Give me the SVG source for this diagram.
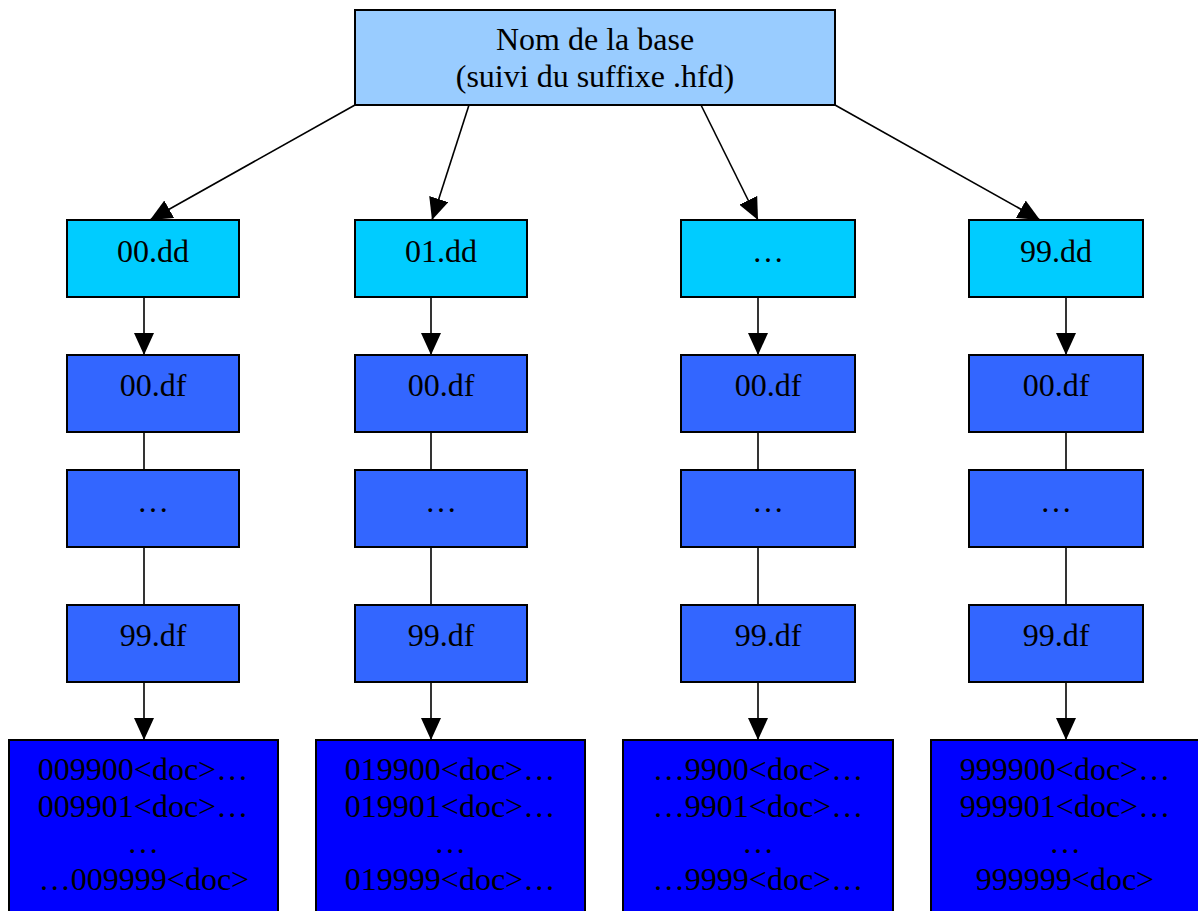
<svg xmlns="http://www.w3.org/2000/svg" width="1198" height="911" viewBox="0 0 1198 911">
<style>
text{font-family:"Liberation Serif","Times New Roman",serif;font-size:32px;fill:#000;text-anchor:middle}
.box{stroke:#000;stroke-width:2}
.top{fill:#99CCFF}
.dd{fill:#00CCFF}
.df{fill:#3366FF}
.doc{fill:#0000FF}
.ln{stroke:#000;stroke-width:1.6;fill:none}
</style>
<defs>
<marker id="ah" markerUnits="userSpaceOnUse" markerWidth="22" markerHeight="20" refX="22" refY="10" orient="auto" viewBox="0 0 22 20">
<path d="M0,0 L22,10 L0,20 z" fill="#000"/>
</marker>
</defs>
<rect width="1198" height="911" fill="#fff"/>
<g id="connectors">
<line class="ln" x1="355" y1="105" x2="150" y2="220" marker-end="url(#ah)"/>
<line class="ln" x1="469" y1="105" x2="432" y2="220" marker-end="url(#ah)"/>
<line class="ln" x1="701" y1="105" x2="758" y2="220" marker-end="url(#ah)"/>
<line class="ln" x1="835" y1="105" x2="1040" y2="220" marker-end="url(#ah)"/>
<line class="ln" x1="144" y1="297" x2="144" y2="355" marker-end="url(#ah)"/>
<line class="ln" x1="431" y1="297" x2="431" y2="355" marker-end="url(#ah)"/>
<line class="ln" x1="758" y1="297" x2="758" y2="355" marker-end="url(#ah)"/>
<line class="ln" x1="1066" y1="297" x2="1066" y2="355" marker-end="url(#ah)"/>
<line class="ln" x1="144" y1="432" x2="144" y2="470"/>
<line class="ln" x1="431" y1="432" x2="431" y2="470"/>
<line class="ln" x1="758" y1="432" x2="758" y2="470"/>
<line class="ln" x1="1066" y1="432" x2="1066" y2="470"/>
<line class="ln" x1="144" y1="547" x2="144" y2="605"/>
<line class="ln" x1="431" y1="547" x2="431" y2="605"/>
<line class="ln" x1="758" y1="547" x2="758" y2="605"/>
<line class="ln" x1="1066" y1="547" x2="1066" y2="605"/>
<line class="ln" x1="144" y1="682" x2="144" y2="740" marker-end="url(#ah)"/>
<line class="ln" x1="431" y1="682" x2="431" y2="740" marker-end="url(#ah)"/>
<line class="ln" x1="758" y1="682" x2="758" y2="740" marker-end="url(#ah)"/>
<line class="ln" x1="1066" y1="682" x2="1066" y2="740" marker-end="url(#ah)"/>
</g>
<g id="root">
<rect class="box top" x="355" y="10" width="480" height="95"/>
<text x="595" y="50">Nom de la base</text>
<text x="595" y="87">(suivi du suffixe .hfd)</text>
</g>
<g id="dd00"><rect class="box dd" x="67" y="220" width="172" height="77"/><text x="153" y="262">00.dd</text></g>
<g id="dd01"><rect class="box dd" x="355" y="220" width="172" height="77"/><text x="441" y="262">01.dd</text></g>
<g id="ddx"><rect class="box dd" x="681" y="220" width="174" height="77"/><text x="768" y="262">…</text></g>
<g id="dd99"><rect class="box dd" x="969" y="220" width="174" height="77"/><text x="1056" y="262">99.dd</text></g>

<g id="c1df00"><rect class="box df" x="67" y="355" width="172" height="77"/><text x="153" y="396">00.df</text></g>
<g id="c2df00"><rect class="box df" x="355" y="355" width="172" height="77"/><text x="441" y="396">00.df</text></g>
<g id="c3df00"><rect class="box df" x="681" y="355" width="174" height="77"/><text x="768" y="396">00.df</text></g>
<g id="c4df00"><rect class="box df" x="969" y="355" width="174" height="77"/><text x="1056" y="396">00.df</text></g>

<g id="c1dfx"><rect class="box df" x="67" y="470" width="172" height="77"/><text x="153" y="512">…</text></g>
<g id="c2dfx"><rect class="box df" x="355" y="470" width="172" height="77"/><text x="441" y="512">…</text></g>
<g id="c3dfx"><rect class="box df" x="681" y="470" width="174" height="77"/><text x="768" y="512">…</text></g>
<g id="c4dfx"><rect class="box df" x="969" y="470" width="174" height="77"/><text x="1056" y="512">…</text></g>

<g id="c1df99"><rect class="box df" x="67" y="605" width="172" height="77"/><text x="153" y="646">99.df</text></g>
<g id="c2df99"><rect class="box df" x="355" y="605" width="172" height="77"/><text x="441" y="646">99.df</text></g>
<g id="c3df99"><rect class="box df" x="681" y="605" width="174" height="77"/><text x="768" y="646">99.df</text></g>
<g id="c4df99"><rect class="box df" x="969" y="605" width="174" height="77"/><text x="1056" y="646">99.df</text></g>

<g id="doc1"><rect class="box doc" x="9" y="740" width="269" height="190"/>
<text x="143" y="780">009900&lt;doc&gt;…</text><text x="143" y="817">009901&lt;doc&gt;…</text><text x="143" y="853">…</text><text x="144" y="890">…009999&lt;doc&gt;</text></g>
<g id="doc2"><rect class="box doc" x="316" y="740" width="269" height="190"/>
<text x="450" y="780">019900&lt;doc&gt;…</text><text x="450" y="817">019901&lt;doc&gt;…</text><text x="450" y="853">…</text><text x="450" y="890">019999&lt;doc&gt;…</text></g>
<g id="doc3"><rect class="box doc" x="623" y="740" width="270" height="190"/>
<text x="758" y="780">…9900&lt;doc&gt;…</text><text x="758" y="817">…9901&lt;doc&gt;…</text><text x="758" y="853">…</text><text x="758" y="890">…9999&lt;doc&gt;…</text></g>
<g id="doc4"><rect class="box doc" x="931" y="740" width="280" height="190"/>
<text x="1065" y="780">999900&lt;doc&gt;…</text><text x="1065" y="817">999901&lt;doc&gt;…</text><text x="1065" y="853">…</text><text x="1065" y="890">999999&lt;doc&gt;</text></g>
</svg>
